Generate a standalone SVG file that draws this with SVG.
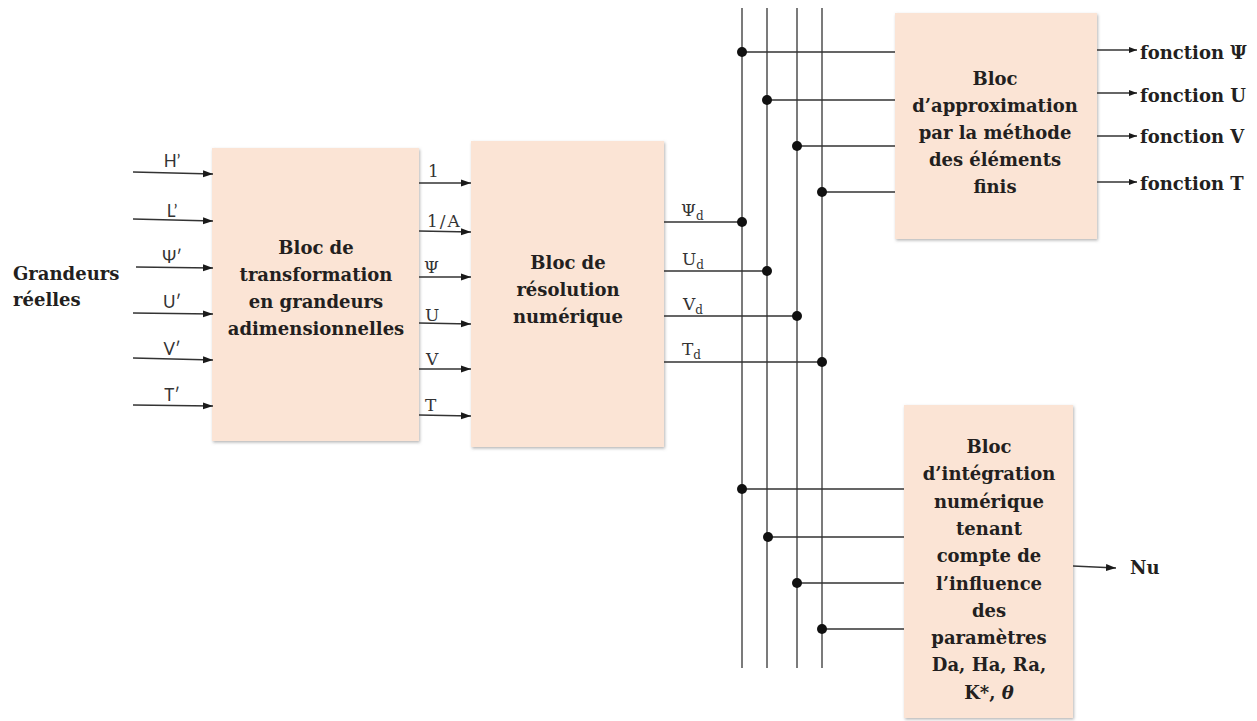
<svg xmlns="http://www.w3.org/2000/svg" width="1257" height="721" viewBox="0 0 1257 721">
<defs>
<filter id="sh" x="-5%" y="-5%" width="110%" height="110%">
<feDropShadow dx="1" dy="1.5" stdDeviation="1.5" flood-color="#7a7a7a" flood-opacity="0.55"/>
</filter>
<marker id="ah" markerUnits="userSpaceOnUse" markerWidth="10" markerHeight="8" refX="10" refY="4" orient="auto">
<path d="M0,0.5 L10,4 L0,7.5 z" fill="#1a1a1a"/>
</marker>
<marker id="ahs" markerUnits="userSpaceOnUse" markerWidth="8" markerHeight="7" refX="8" refY="3.5" orient="auto">
<path d="M0,0.5 L8,3.5 L0,6.5 z" fill="#1a1a1a"/>
</marker>
</defs>
<style>
.blk{fill:#FBE4D5;filter:url(#sh);}
.bt{font-family:"DejaVu Serif",serif;font-weight:bold;font-size:18px;fill:#231f20;text-anchor:middle;}
.bl{font-family:"DejaVu Serif",serif;font-weight:bold;font-size:18px;fill:#231f20;}
.ln{stroke:#333;stroke-width:1.3;fill:none;}
.bus{stroke:#444;stroke-width:1.4;fill:none;}
.ar{marker-end:url(#ah);}
.ars{marker-end:url(#ahs);}
.dot{fill:#111;}
.lb{font-family:"DejaVu Serif",serif;font-size:17px;fill:#333;}
.in{font-family:Lato,"DejaVu Sans",sans-serif;font-size:17px;fill:#333;text-anchor:middle;}
</style>
<rect width="1257" height="721" fill="#ffffff"/>

<g id="grandeurs-reelles">
<text class="bl" x="13" y="280">Grandeurs</text>
<text class="bl" x="13" y="306">réelles</text>
</g>

<g id="bloc-transformation">
<rect class="blk" x="212" y="148" width="207" height="293"/>
<text class="bt" x="316" y="254">Bloc de</text>
<text class="bt" x="316" y="281">transformation</text>
<text class="bt" x="316" y="308">en grandeurs</text>
<text class="bt" x="316" y="335">adimensionnelles</text>
</g>

<g id="bloc-resolution">
<rect class="blk" x="471" y="141" width="193" height="306"/>
<text class="bt" x="568" y="269">Bloc de</text>
<text class="bt" x="568" y="296">résolution</text>
<text class="bt" x="568" y="323">numérique</text>
</g>

<g id="bloc-approximation">
<rect class="blk" x="895" y="13" width="202" height="226"/>
<text class="bt" x="995" y="85">Bloc</text>
<text class="bt" x="995" y="112">d’approximation</text>
<text class="bt" x="995" y="139">par la méthode</text>
<text class="bt" x="995" y="166">des éléments</text>
<text class="bt" x="995" y="193">finis</text>
</g>

<g id="bloc-integration">
<rect class="blk" x="904" y="405" width="169" height="313"/>
<text class="bt" x="989" y="453">Bloc</text>
<text class="bt" x="989" y="480">d’intégration</text>
<text class="bt" x="989" y="508">numérique</text>
<text class="bt" x="989" y="535">tenant</text>
<text class="bt" x="989" y="562">compte de</text>
<text class="bt" x="989" y="590">l’influence</text>
<text class="bt" x="989" y="617">des</text>
<text class="bt" x="989" y="644">paramètres</text>
<text class="bt" x="989" y="671">Da, Ha, Ra,</text>
<text class="bt" x="989" y="699">K*, <tspan font-style="italic">θ</tspan></text>
</g>

<g id="sortie-fonction-psi"><text class="bl" x="1140" y="59">fonction Ψ</text></g>
<g id="sortie-fonction-u"><text class="bl" x="1140" y="102">fonction U</text></g>
<g id="sortie-fonction-v"><text class="bl" x="1140" y="143">fonction V</text></g>
<g id="sortie-fonction-t"><text class="bl" x="1140" y="190">fonction T</text></g>
<g id="sortie-nu"><text class="bl" x="1130" y="574">Nu</text></g>

<g id="connectors">
<path class="ln ar" d="M133,172 L213,174"/>
<path class="ln ar" d="M133,219 L213,221"/>
<path class="ln ar" d="M136,267 L213,268"/>
<path class="ln ar" d="M133,313 L213,314"/>
<path class="ln ar" d="M133,358 L213,360"/>
<path class="ln ar" d="M133,405 L213,406"/>
<path class="ln ar" d="M419,183 L471,183"/>
<path class="ln ar" d="M419,231 L471,232"/>
<path class="ln ar" d="M419,277 L471,277"/>
<path class="ln ar" d="M419,323 L471,324"/>
<path class="ln ar" d="M419,369 L471,369"/>
<path class="ln ar" d="M419,415 L471,416"/>
<path class="bus" d="M742,8 V668 M767,8 V668 M797,8 V668 M822,8 V668"/>
<path class="ln" d="M664,222 H742 M664,271 H767 M664,316 H797 M664,362 H822"/>
<path class="ln" d="M742,52 H895 M767,100 H895 M797,146 H895 M822,192 H895"/>
<path class="ln" d="M742,489 H904 M767,537 H904 M797,583 H904 M822,629 H904"/>
<path class="ln ars" d="M1097,50 H1137"/>
<path class="ln ars" d="M1097,93 H1137"/>
<path class="ln ars" d="M1097,136 H1137"/>
<path class="ln ars" d="M1097,182 H1137"/>
<path class="ln ar" d="M1073,566 L1116,568"/>
<circle class="dot" cx="742" cy="222" r="5"/>
<circle class="dot" cx="767" cy="271" r="5"/>
<circle class="dot" cx="797" cy="316" r="5"/>
<circle class="dot" cx="822" cy="362" r="5"/>
<circle class="dot" cx="742" cy="52" r="5"/>
<circle class="dot" cx="767" cy="100" r="5"/>
<circle class="dot" cx="797" cy="146" r="5"/>
<circle class="dot" cx="822" cy="192" r="5"/>
<circle class="dot" cx="742" cy="489" r="5"/>
<circle class="dot" cx="768" cy="537" r="5"/>
<circle class="dot" cx="797" cy="583" r="5"/>
<circle class="dot" cx="822" cy="629" r="5"/>
</g>

<g id="connector-labels">
<text class="in" x="172" y="167">H’</text>
<text class="in" x="172" y="217">L’</text>
<text class="in" x="172" y="263">Ψ′</text>
<text class="in" x="172" y="308">U′</text>
<text class="in" x="172" y="355">V′</text>
<text class="in" x="172" y="401">T′</text>
<text class="lb" x="428" y="177">1</text>
<text class="lb" x="427" y="227" letter-spacing="2">1/A</text>
<text class="lb" x="424" y="273">Ψ</text>
<text class="lb" x="425" y="321">U</text>
<text class="lb" x="426" y="365">V</text>
<text class="lb" x="425" y="411">T</text>
<text class="lb" x="681" y="216">Ψ<tspan font-size="12" dy="4">d</tspan></text>
<text class="lb" x="682" y="265">U<tspan font-size="12" dy="4">d</tspan></text>
<text class="lb" x="683" y="310">V<tspan font-size="12" dy="4">d</tspan></text>
<text class="lb" x="682" y="355">T<tspan font-size="12" dy="4">d</tspan></text>
</g>
</svg>
